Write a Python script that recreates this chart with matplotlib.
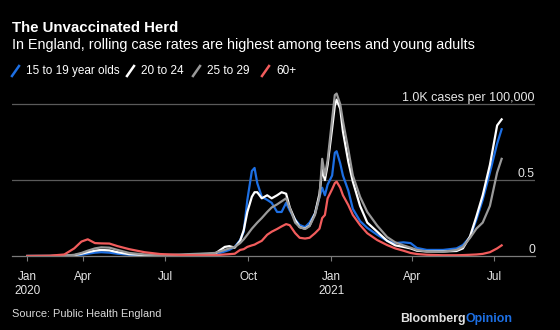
import pandas as pd
import matplotlib.pyplot as plt
from matplotlib.lines import Line2D

plt.rcParams['font.family'] = ['Liberation Sans', 'DejaVu Sans']

# dates
dates = pd.to_datetime([
    '2020-01-30', '2020-02-24', '2020-03-11', '2020-03-22', '2020-03-30', '2020-04-06',
    '2020-04-14', '2020-04-21', '2020-04-30', '2020-05-09', '2020-05-22', '2020-06-08',
    '2020-06-25', '2020-07-17', '2020-08-08', '2020-08-25', '2020-09-05', '2020-09-10',
    '2020-09-16', '2020-09-22', '2020-09-26', '2020-09-30', '2020-10-05', '2020-10-08',
    '2020-10-11', '2020-10-16', '2020-10-22', '2020-10-27', '2020-11-02', '2020-11-07',
    '2020-11-12', '2020-11-16', '2020-11-22', '2020-11-27', '2020-12-03', '2020-12-08',
    '2020-12-14', '2020-12-19', '2020-12-22', '2020-12-25', '2020-12-28', '2021-01-02',
    '2021-01-05', '2021-01-07', '2021-01-11', '2021-01-14', '2021-01-20', '2021-01-25',
    '2021-02-02', '2021-02-10', '2021-02-21', '2021-03-04', '2021-03-13', '2021-03-22',
    '2021-03-30', '2021-04-06', '2021-04-17', '2021-05-05', '2021-05-20', '2021-05-27',
    '2021-06-04', '2021-06-11', '2021-06-18', '2021-06-26', '2021-07-04', '2021-07-09',
])

# rolling case rate, thousands per 100,000
teens = [
    0, 0, 0, 0.002, 0.008, 0.015, 0.022, 0.025, 0.022, 0.015, 0.008, 0.004,
    0.003, 0.004, 0.006, 0.01, 0.03, 0.04, 0.06, 0.105, 0.16, 0.37, 0.56, 0.58,
    0.48, 0.39, 0.37, 0.35, 0.29, 0.29, 0.35, 0.30, 0.24, 0.204, 0.19, 0.22,
    0.28, 0.39, 0.45, 0.40, 0.47, 0.53, 0.68, 0.69, 0.61, 0.53, 0.43, 0.31,
    0.23, 0.185, 0.14, 0.10, 0.085, 0.09, 0.085, 0.053, 0.04, 0.04, 0.05, 0.072,
    0.125, 0.24, 0.37, 0.55, 0.74, 0.835,
]
twenties = [
    0, 0, 0.001, 0.005, 0.015, 0.025, 0.035, 0.04, 0.037, 0.025, 0.012, 0.006,
    0.004, 0.005, 0.01, 0.015, 0.06, 0.065, 0.055, 0.1, 0.17, 0.29, 0.39, 0.42,
    0.42, 0.38, 0.40, 0.38, 0.40, 0.42, 0.41, 0.32, 0.237, 0.19, 0.18, 0.20,
    0.28, 0.41, 0.57, 0.50, 0.60, 0.84, 0.99, 1.03, 0.97, 0.82, 0.62, 0.49,
    0.33, 0.22, 0.16, 0.10, 0.07, 0.06, 0.05, 0.035, 0.03, 0.03, 0.033, 0.05,
    0.13, 0.26, 0.40, 0.60, 0.86, 0.90,
]
late_twenties = [
    0, 0, 0.002, 0.008, 0.02, 0.035, 0.05, 0.057, 0.055, 0.04, 0.02, 0.01,
    0.006, 0.01, 0.015, 0.02, 0.04, 0.05, 0.06, 0.085, 0.11, 0.14, 0.18, 0.2,
    0.22, 0.25, 0.29, 0.32, 0.34, 0.36, 0.38, 0.316, 0.22, 0.19, 0.178, 0.197,
    0.27, 0.39, 0.64, 0.53, 0.63, 0.9, 1.06, 1.07, 1.0, 0.89, 0.7, 0.53,
    0.39, 0.29, 0.2, 0.125, 0.09, 0.07, 0.055, 0.04, 0.03, 0.028, 0.04, 0.06,
    0.12, 0.18, 0.22, 0.33, 0.55, 0.64,
]
over_60 = [
    0, 0.002, 0.01, 0.05, 0.095, 0.11, 0.085, 0.083, 0.082, 0.065, 0.045, 0.025,
    0.013, 0.007, 0.005, 0.005, 0.01, 0.012, 0.015, 0.04, 0.045, 0.06, 0.07, 0.075,
    0.085, 0.1, 0.14, 0.16, 0.178, 0.195, 0.21, 0.203, 0.151, 0.12, 0.115, 0.12,
    0.15, 0.18, 0.25, 0.27, 0.38, 0.44, 0.48, 0.49, 0.45, 0.40, 0.335, 0.27,
    0.204, 0.15, 0.105, 0.072, 0.05, 0.035, 0.02, 0.013, 0.008, 0.005, 0.005, 0.006,
    0.008, 0.01, 0.014, 0.025, 0.05, 0.07,
]

series = [
    ('15 to 19 year olds', teens, '#1d6fe3'),
    ('20 to 24', twenties, '#ffffff'),
    ('25 to 29', late_twenties, '#9a9a9a'),
    ('60+', over_60, '#f25c5c'),
]

tick_dates = pd.to_datetime(['2020-01-30', '2020-04-01', '2020-07-01', '2020-10-01',
                             '2021-01-01', '2021-04-01', '2021-07-01'])
tick_labels = ['Jan\n2020', 'Apr', 'Jul', 'Oct', 'Jan\n2021', 'Apr', 'Jul']

fig = plt.figure(figsize=(5.6, 3.3), dpi=100, facecolor='black')
ax = fig.add_axes([12 / 560, 1 - 256 / 330, 523 / 560, 167 / 330])
ax.set_facecolor('black')

for name, vals, col in series:
    ax.plot(dates, vals, color=col, lw=1.6, solid_joinstyle='round')

ax.set_xlim(pd.Timestamp('2020-01-13'), pd.Timestamp('2021-08-15'))
ax.set_ylim(0, 1.1)

for v in [0.5, 1.0]:
    ax.axhline(v, color='#5a5a5a', lw=0.9, zorder=0)

for s in ['top', 'right', 'left']:
    ax.spines[s].set_visible(False)
ax.spines['bottom'].set_color('#7a7a7a')
ax.spines['bottom'].set_linewidth(0.9)

ax.set_yticks([])
ax.set_xticks(tick_dates)
ax.set_xticklabels(tick_labels, color='#e6e6e6', fontsize=8.5, linespacing=1.3)
ax.tick_params(axis='x', length=3.5, width=0.8, color='#7a7a7a', pad=7)

# value labels above gridlines on the right
ax.text(1.0, 1.0, '1.0K cases per 100,000', transform=ax.get_yaxis_transform(),
        ha='right', va='bottom', color='#e6e6e6', fontsize=9.0)
ax.text(1.0, 0.5, '0.5', transform=ax.get_yaxis_transform(), ha='right', va='bottom',
        color='#e6e6e6', fontsize=8.8)
ax.text(1.0, 0.0, '0', transform=ax.get_yaxis_transform(), ha='right', va='bottom',
        color='#e6e6e6', fontsize=8.8)

# titles
fig.text(12 / 560, 1 - 32 / 330, 'The Unvaccinated Herd', color='white',
         fontsize=10.8, fontweight='bold', va='baseline',
         family=['Liberation Sans Narrow', 'Liberation Sans'])
fig.text(12 / 560, 1 - 49.5 / 330,
         'In England, rolling case rates are highest among teens and young adults',
         color='white', fontsize=10.4, va='baseline')

# legend with slash markers
leg_x = [12, 127, 193, 262]
for (name, vals, col), lx in zip(series, leg_x):
    fig.add_artist(Line2D([lx / 560, (lx + 7) / 560], [1 - 76 / 330, 1 - 66 / 330],
                          color=col, lw=1.8, transform=fig.transFigure))
    fig.text((lx + 14) / 560, 1 - 71 / 330, name, color='white', fontsize=8.5,
             va='center')

fig.text(12 / 560, 1 - 314 / 330, 'Source: Public Health England', color='#d9d9d9',
         fontsize=7.9, va='center')
t = fig.text(400 / 560, 1 - 319 / 330, 'Bloomberg', color='#e0e0e0', fontsize=8.9,
             fontweight='bold', va='center')
fig.canvas.draw()
bb = t.get_window_extent()
fig.text(bb.x1 / 560, 1 - 319 / 330, 'Opinion', color='#1d6fe3', fontsize=8.9,
         fontweight='bold', va='center')

fig.savefig('out.png', dpi=100, facecolor='black')
